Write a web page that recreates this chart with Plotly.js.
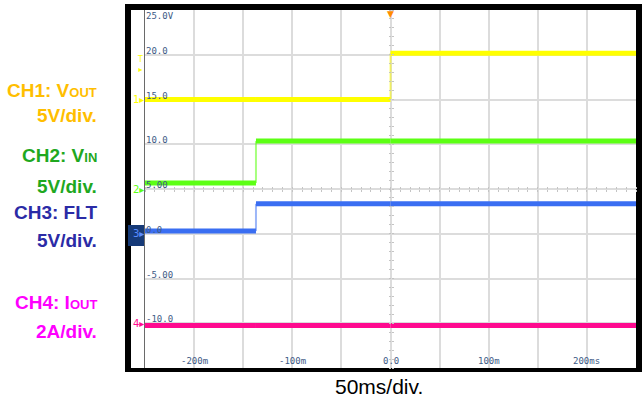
<!DOCTYPE html>
<html>
<head>
<meta charset="utf-8">
<script src="https://cdn.plot.ly/plotly-3.0.1.min.js"></script>
<style>html,body{margin:0;padding:0;background:#fff;}#chart{width:642px;height:400px;}</style>
</head>
<body>
<div id="chart"></div>
<script>
// ---- data (read from the scope capture) ----
const timeMs = [-250, -137, 0, 250];          // breakpoints, ms
const vout   = [0.0, 0.0, 5.16, 5.16];         // CH1 V_OUT, V
const vin    = [0.67, 5.35, 5.35, 5.35];       // CH2 V_IN, V
const flt    = [0.3, 3.34, 3.34, 3.34];        // CH3 FLT, V
const iout   = [-0.1, -0.1, -0.1, -0.1];       // CH4 I_OUT, A

const yLabelVals = [25, 20, 15, 10, 5, 0, -5, -10];
const yLabels    = ['25.0V', '20.0', '15.0', '10.0', '5.00', '0.0', '-5.00', '-10.0'];
const xLabelVals = [-200, -100, 0, 100, 200];
const xLabels    = ['-200m', '-100m', '0.0', '100m', '200ms'];

// channel display settings (screen offset in grid units, units per division)
const channels = [
  {name: 'CH1', data: vout, offset: 15,  perDiv: 5, color: '#FFFF00', edge: 'rgba(255,255,0,0.55)'},
  {name: 'CH2', data: vin,  offset: 5,   perDiv: 5, color: '#5CFF14', edge: 'rgba(92,255,20,0.55)'},
  {name: 'CH3', data: flt,  offset: 0,   perDiv: 5, color: '#3A6EF2', edge: 'rgba(58,110,242,0.5)'},
  {name: 'CH4', data: iout, offset: -10, perDiv: 2, color: '#FF0A8F', edge: 'rgba(255,10,143,0.5)'}
];

// ---- pixel helpers for page layout ----
const L = 145, R = 6, T = 10, B = 32, W = 642, H = 400;
const pw = W - L - R, ph = H - T - B;
const px = x => (x - L) / pw;
const py = y => (H - B - y) / ph;

const traces = [];
channels.forEach(c => {
  const disp = c.data.map(v => c.offset + v * 5 / c.perDiv);
  // thin, fainter transition edges
  const ex = [], ey = [];
  for (let i = 1; i < timeMs.length; i++) {
    if (disp[i] !== disp[i - 1]) { ex.push(timeMs[i], timeMs[i], null); ey.push(disp[i - 1], disp[i], null); }
  }
  traces.push({type: 'scatter', mode: 'lines', x: ex, y: ey, line: {color: c.edge, width: 2},
               hoverinfo: 'skip', showlegend: false});
  // thick flat levels
  const hx = [], hy = [];
  for (let i = 0; i < timeMs.length - 1; i++) {
    hx.push(timeMs[i], timeMs[i + 1], null); hy.push(disp[i], disp[i], null);
  }
  traces.push({type: 'scatter', mode: 'lines', name: c.name, x: hx, y: hy,
               line: {color: c.color, width: 5}, hoverinfo: 'skip', showlegend: false});
});
// empty traces to bring up the centre-line tick axes
traces.push({x: [], y: [], xaxis: 'x2', yaxis: 'y', type: 'scatter', showlegend: false});
traces.push({x: [], y: [], xaxis: 'x3', yaxis: 'y', type: 'scatter', showlegend: false});
traces.push({x: [], y: [], xaxis: 'x', yaxis: 'y2', type: 'scatter', showlegend: false});
traces.push({x: [], y: [], xaxis: 'x', yaxis: 'y3', type: 'scatter', showlegend: false});

const gridCol = '#dcdcdc';
const tickCol = '#c4c4c4';
const scaleFont = {family: 'DejaVu Sans Mono', size: 9, color: '#3d5a86'};

const annotations = [];
yLabelVals.forEach((v, i) => {
  annotations.push({
    xref: 'paper', yref: 'y', x: 0, y: v, xanchor: 'left',
    yanchor: i === 0 ? 'top' : 'bottom', xshift: 0, yshift: i === 0 ? 0 : -2,
    text: yLabels[i], showarrow: false, font: scaleFont, borderpad: 0
  });
});
xLabelVals.forEach((v, i) => {
  annotations.push({
    xref: 'x', yref: 'paper', x: v, y: 0, xanchor: 'center', yanchor: 'bottom',
    yshift: 1, text: xLabels[i], showarrow: false, font: scaleFont, borderpad: 0
  });
});

// left-side channel legends
const lab = (text, y, color) => ({
  xref: 'paper', yref: 'paper', x: px(99), y: py(y), xanchor: 'right', yanchor: 'middle',
  text: text, showarrow: false,
  font: {family: 'Liberation Sans, Arial, sans-serif', size: 19, color: color}
});
const sub = s => "<span style='font-size:13px'>" + s + "</span>";
annotations.push(lab('<b>CH1: V' + sub('OUT') + '</b>', 90, '#FFBE00'));
annotations.push(lab('<b>5V/div.</b>', 116, '#FFBE00'));
annotations.push(lab('<b>CH2: V' + sub('IN') + '</b>', 156, '#1FA81F'));
annotations.push(lab('<b>5V/div.</b>', 186, '#1FA81F'));
annotations.push(lab('<b>CH3: FLT</b>', 212, '#2B2BA6'));
annotations.push(lab('<b>5V/div.</b>', 241, '#2B2BA6'));
annotations.push(lab('<b>CH4: I' + sub('OUT') + '</b>', 302, '#FF00FF'));
annotations.push(lab('<b>2A/div.</b>', 331, '#FF00FF'));

// bottom caption
annotations.push({
  xref: 'paper', yref: 'paper', x: px(379), y: py(386), xanchor: 'center', yanchor: 'middle',
  text: '50ms/div.', showarrow: false,
  font: {family: 'Liberation Sans, Arial, sans-serif', size: 21, color: '#000'}
});

// channel ground markers in the left gutter
channels.forEach((c, i) => {
  annotations.push({
    xref: 'paper', yref: 'y', x: px(145), y: c.offset, xanchor: 'right', yanchor: 'middle',
    text: (i + 1) + '\u25B8', showarrow: false,
    font: {family: 'DejaVu Sans', size: 10, color: i === 2 ? '#5a8cff' : c.color},
    borderpad: 0
  });
});
// trigger level marker
annotations.push({xref: 'paper', yref: 'paper', x: px(140), y: py(64), xanchor: 'center', yanchor: 'middle',
  text: 'T<br>\u25B8', showarrow: false,
  font: {family: 'DejaVu Sans', size: 8, color: '#FFFF00'}, borderpad: 0});
// trigger position marker
annotations.push({xref: 'x', yref: 'paper', x: 0, y: 1, xanchor: 'center', yanchor: 'top', yshift: 3,
  text: '\u25BC', showarrow: false, font: {family: 'DejaVu Sans', size: 9, color: '#FF8C00'}});

const shapes = [
  {type: 'rect', xref: 'paper', yref: 'paper', x0: px(125), x1: px(642), y0: py(372), y1: py(4),
   fillcolor: '#000', line: {width: 0}, layer: 'below'},
  {type: 'rect', xref: 'paper', yref: 'paper', x0: px(131), x1: px(636), y0: py(368), y1: py(10),
   fillcolor: '#fff', line: {width: 0}, layer: 'below'},
  // CH3 selected-channel badge
  {type: 'rect', xref: 'paper', yref: 'paper', x0: px(128), x1: px(145), y0: py(246), y1: py(225),
   fillcolor: '#163a78', line: {width: 0}, layer: 'below'}
];

const layout = {
  width: W, height: H,
  margin: {l: L, r: R, t: T, b: B, pad: 0},
  paper_bgcolor: '#fff', plot_bgcolor: 'rgba(0,0,0,0)',
  showlegend: false,
  xaxis: {range: [-250, 250], dtick: 50, tick0: 0, showgrid: true, gridcolor: gridCol, gridwidth: 2,
          zeroline: false, showticklabels: false, ticks: '', showline: false, fixedrange: true},
  yaxis: {range: [-15, 25], dtick: 5, tick0: 0, showgrid: true, gridcolor: gridCol, gridwidth: 2,
          zeroline: false, showticklabels: false, ticks: '', showline: true, linecolor: '#6a6a6a',
          linewidth: 1, fixedrange: true},
  xaxis2: {overlaying: 'x', anchor: 'free', position: 0.5, side: 'bottom', range: [-250, 250],
           dtick: 10, tick0: 0, ticks: 'outside', ticklen: 2, tickwidth: 1, tickcolor: tickCol,
           showgrid: false, zeroline: false, showticklabels: false, showline: false},
  xaxis3: {overlaying: 'x', anchor: 'free', position: 0.5, side: 'top', range: [-250, 250],
           dtick: 10, tick0: 0, ticks: 'outside', ticklen: 2, tickwidth: 1, tickcolor: tickCol,
           showgrid: false, zeroline: false, showticklabels: false, showline: false},
  yaxis2: {overlaying: 'y', anchor: 'free', position: 0.5, side: 'left', range: [-15, 25],
           dtick: 1, tick0: 0, ticks: 'outside', ticklen: 2, tickwidth: 1, tickcolor: tickCol,
           showgrid: false, zeroline: false, showticklabels: false, showline: false},
  yaxis3: {overlaying: 'y', anchor: 'free', position: 0.5, side: 'right', range: [-15, 25],
           dtick: 1, tick0: 0, ticks: 'outside', ticklen: 2, tickwidth: 1, tickcolor: tickCol,
           showgrid: false, zeroline: false, showticklabels: false, showline: false},
  annotations: annotations,
  shapes: shapes
};

Plotly.newPlot('chart', traces, layout, {displayModeBar: false, staticPlot: true});
</script>
</body>
</html>
